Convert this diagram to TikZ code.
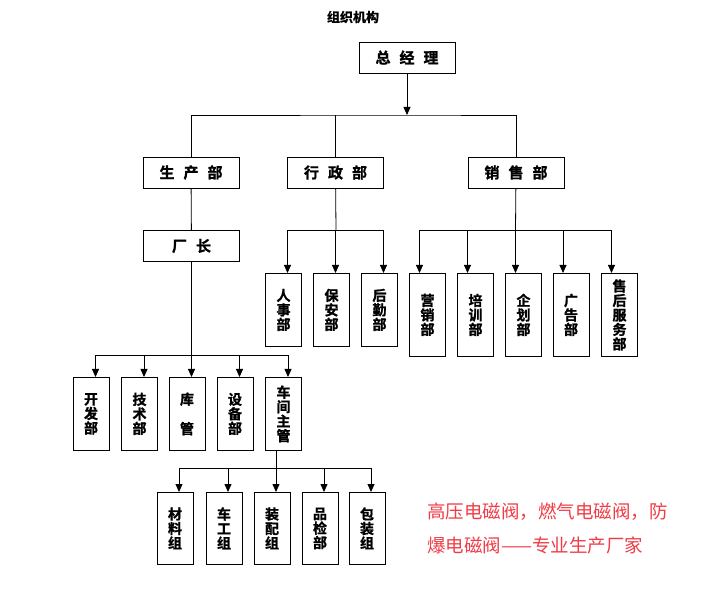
\documentclass[tikz,border=0pt]{standalone}
\usepackage{fontspec}
\usetikzlibrary{arrows.meta}
\newfontfamily\cjk{Noto Sans CJK SC}
\newfontfamily\cjkb{Noto Sans CJK SC Bold}[FakeBold=1.2]
\definecolor{adred}{RGB}{240,60,70}
\newcommand\chgap{\hspace{9pt}}
\tikzset{
  hbox/.style={draw, minimum width=96pt, minimum height=31pt, inner sep=0pt,
    font=\cjkb\fontsize{15}{15}\selectfont},
  vbox/.style={draw, anchor=north, minimum width=36pt, inner sep=0pt, align=center,
    font=\cjkb\fontsize{14}{14.5}\selectfont},
  arr/.style={-{Triangle[length=8pt,width=7pt]}},
  adtext/.style={anchor=west, inner sep=0pt, text=adred,
    font=\cjk\fontsize{18.5}{18.5}\selectfont},
}
\begin{document}
\begin{tikzpicture}[x=1pt,y=-1pt,line width=0.8pt]
\useasboundingbox (0,0) rectangle (704,601);
\node[font=\cjkb\fontsize{13}{13}\selectfont] (title) at (353,17) {组织机构};
% top level
\node[hbox] (zjl) at (407,57.5) {总\chgap 经\chgap 理};
\node[hbox] (scb) at (191,172.5) {生\chgap 产\chgap 部};
\node[hbox] (xzb) at (335.5,172.5) {行\chgap 政\chgap 部};
\node[hbox] (xsb) at (516,172.5) {销\chgap 售\chgap 部};
\node[hbox] (cz) at (191.5,246) {厂\chgap 长};
\coordinate (top) at (407,115);
\draw[arr] (zjl) -- (top);
\draw (scb.north) |- (top) -| (xsb.north);
\draw (xzb.north) -- (xzb.north |- top);
\draw (scb) -- (cz);
% xingzheng
\coordinate (xzbar) at (336,230);
\draw (xzb) -- (xzbar);
\foreach \n/\x/\t in {rs/283.5/{人\\事\\部},ba/331.5/{保\\安\\部},hq/379.5/{后\\勤\\部}}{
  \node[vbox, minimum height=73pt] (\n) at (\x,273) {\t};
  \draw[arr] (xzbar) -| ([xshift=4pt]\n.north);
}
% xiaoshou
\coordinate (xsbar) at (515.5,230);
\draw (xsb) -- (xsbar);
\foreach \n/\x/\t in {yx/427.5/{营\\销\\部},px/475.5/{培\\训\\部},qh/523.5/{企\\划\\部},
    gg/571/{广\\告\\部},sh/619.5/{售\\后\\服\\务\\部}}{
  \node[vbox, minimum height=83pt] (\n) at (\x,273) {\t};
  \draw[arr] (xsbar) -| ([xshift=-8pt]\n.north);
}
% shengchan
\coordinate (czbar) at (191.5,355);
\draw (cz) -- (czbar);
\foreach \n/\x/\t in {kf/91/{开\\发\\部},js/139.5/{技\\术\\部},kg/187/{库\\[15pt]管},
    sb/235/{设\\备\\部},cj/283.5/{车\\间\\主\\管}}{
  \node[vbox, minimum height=73pt] (\n) at (\x,377) {\t};
  \draw[arr] (czbar) -| ([xshift=4.5pt]\n.north);
}
% chejian
\coordinate (cjbar) at (276,468);
\draw ([xshift=-7.5pt]cj.south) -- (cjbar);
\foreach \n/\x/\t in {cl/175/{材\\料\\组},cg/224/{车\\工\\组},zp/272/{装\\配\\组},
    pj/320/{品\\检\\部},bz/367/{包\\装\\组}}{
  \node[vbox, minimum height=72pt] (\n) at (\x,492) {\t};
  \draw[arr] (cjbar) -| ([xshift=4pt]\n.north);
}
\node[adtext] (ad1) at (427,512) {高压电磁阀，燃气电磁阀，防};
\node[adtext] (ad2) at (427,545) {爆电磁阀——专业生产厂家};
\end{tikzpicture}
\end{document}
